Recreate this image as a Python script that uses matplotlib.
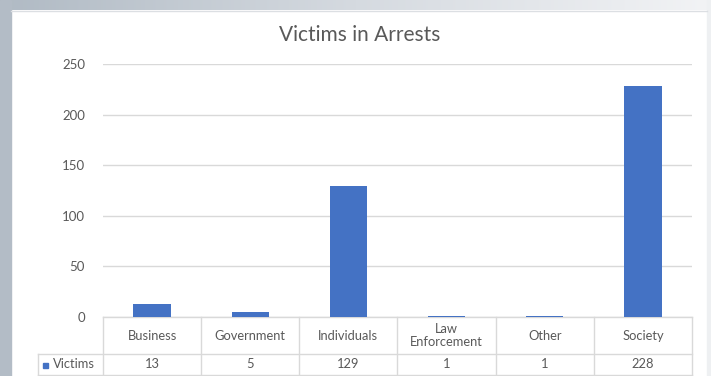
import matplotlib
matplotlib.use("Agg")
import matplotlib.pyplot as plt
import numpy as np
from matplotlib.patches import Rectangle
from matplotlib.transforms import blended_transform_factory
from matplotlib.colors import LinearSegmentedColormap

categories = ["Business", "Government", "Individuals", "Law\nEnforcement", "Other", "Society"]
victims = [13, 5, 129, 1, 1, 228]
series_name = "Victims"
yticks = [0, 50, 100, 150, 200, 250]
title = "Victims in Arrests"

W, H = 711, 376
plt.rcParams['font.family'] = ['Lato', 'DejaVu Sans']
fig = plt.figure(figsize=(W / 100, H / 100), dpi=100)
fig.patch.set_facecolor("white")

# frame decorations
fig.patches.append(Rectangle((0, 0), 11 / W, 1, transform=fig.transFigure, color="#b3bcc6", zorder=0))
fig.patches.append(Rectangle((707 / W, 0), 4 / W, 1, transform=fig.transFigure, color="#eef0f2", zorder=0))
gax = fig.add_axes([0, 1 - 10 / H, 1, 10 / H])
grad = np.linspace(0, 1, 256)[None, :]
cm = LinearSegmentedColormap.from_list("g", ["#b0bac4", "#d5dae0", "#f2f3f5"])
gax.imshow(grad, aspect="auto", cmap=cm, extent=[0, 1, 0, 1])
gax.axis("off")
fig.add_artist(plt.Line2D([11 / W, 707 / W], [1 - 10.5 / H, 1 - 10.5 / H], transform=fig.transFigure, color="#dcdfe3", lw=1))

left, right, top, bottom = 103, 692, 64, 317
ax = fig.add_axes([left / W, 1 - bottom / H, (right - left) / W, (bottom - top) / H])
x = np.arange(len(categories))
ax.bar(x, victims, width=0.38, color="#4472C4", zorder=3)
ax.set_xlim(-0.5, len(categories) - 0.5)
ax.set_ylim(0, 250)
ax.set_yticks(yticks)
ax.set_yticklabels([str(t) for t in yticks], fontsize=9.5, color="#595959")
ax.tick_params(axis="y", length=0, pad=13)
ax.set_xticks([])
ax.grid(axis="y", color="#d9d9d9", lw=1, zorder=0)
for s in ax.spines.values():
    s.set_visible(False)
ax.set_facecolor("none")

fig.text(360 / W, 1 - 35 / H, title, ha="center", va="center", fontsize=15, color="#595959")

# data table
tr = blended_transform_factory(ax.transData, ax.transAxes)
ph = bottom - top
y_mid = -(354 - bottom) / ph
y_bot = -(375 - bottom) / ph
lc = "#d9d9d9"
n = len(categories)
colw = (right - left) / n
x_leg = -0.5 - (left - 38) / colw
kw = dict(transform=tr, color=lc, lw=1, clip_on=False)
ax.plot([-0.5, n - 0.5], [0, 0], **kw)
ax.plot([x_leg, n - 0.5], [y_mid, y_mid], **kw)
ax.plot([x_leg, n - 0.5], [y_bot, y_bot], **kw)
for b in np.arange(-0.5, n, 1.0):
    ax.plot([b, b], [0, y_bot], **kw)
ax.plot([x_leg, x_leg], [y_mid, y_bot], **kw)
fs = 9.3
for i, (c, v) in enumerate(zip(categories, victims)):
    ax.text(i, y_mid / 2, c, transform=tr, ha="center", va="center", fontsize=fs,
            color="#595959", clip_on=False, linespacing=1.1)
    ax.text(i, (y_mid + y_bot) / 2, str(v), transform=tr, ha="center", va="center",
            fontsize=fs, color="#595959", clip_on=False)
fig.patches.append(Rectangle((43 / W, 1 - 367.5 / H), 5 / W, 5 / H, transform=fig.transFigure, color="#4472C4"))
ax.text(-0.5 - (left - 53) / colw, (y_mid + y_bot) / 2, series_name, transform=tr,
        ha="left", va="center", fontsize=fs, color="#595959", clip_on=False)

fig.savefig("out.png", dpi=100, facecolor="white")
